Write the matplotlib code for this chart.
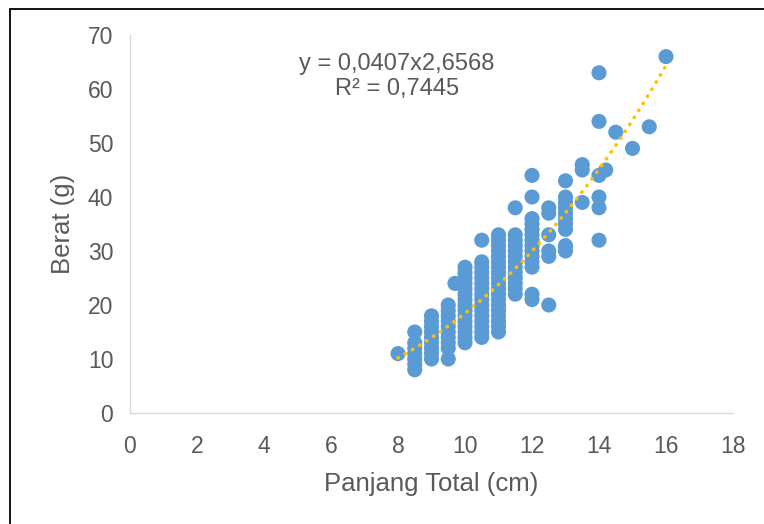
import numpy as np
import matplotlib.pyplot as plt
from matplotlib.patches import Rectangle

# panjang total (cm) per kelas, berat (g) yang terbaca di tiap kelas
panjang_kelas = [8, 8.5, 9, 9.5, 9.7, 10, 10.5, 11, 11.5, 12, 12.5, 13,
                 13.5, 14, 14.2, 14.5, 15, 15.5, 16]
berat_per_kelas = [
    [11],
    [8, 9, 10, 11, 12, 13, 15],
    [10, 11, 12, 13, 14, 15, 16, 17, 18],
    [10, 12, 13, 14, 15, 16, 17, 18, 19, 20],
    [24],
    [13, 14, 15, 16, 17, 18, 19, 20, 21, 22, 23, 24, 25, 26, 27],
    [14, 15, 16, 17, 18, 19, 20, 21, 22, 23, 24, 25, 26, 27, 28, 32],
    [15, 16, 17, 18, 19, 20, 21, 22, 23, 24, 25, 26, 27, 28, 29, 30, 31, 32, 33],
    [22, 23, 24, 25, 26, 27, 28, 29, 30, 31, 32, 33, 38],
    [21, 22, 27, 28, 29, 30, 31, 32, 33, 34, 35, 36, 40, 44],
    [20, 29, 30, 33, 37, 38],
    [30, 31, 34, 35, 36, 37, 38, 39, 40, 43],
    [39, 45, 46],
    [32, 38, 40, 44, 54, 63],
    [45],
    [52],
    [49],
    [53],
    [66],
]

# garis tren pangkat (Excel)
koef_a = 0.0407
koef_b = 2.6568
label_persamaan = "y = 0,0407x2,6568\nR² = 0,7445"

x = np.concatenate([[p] * len(b) for p, b in zip(panjang_kelas, berat_per_kelas)])
y = np.concatenate(berat_per_kelas)

plt.rcParams['font.family'] = ['Liberation Sans', 'DejaVu Sans']
abu = '#595959'

fig = plt.figure(figsize=(7.64, 5.24), dpi=100)
ax = fig.add_axes([130 / 764, 111 / 524, 603 / 764, 378 / 524])

ax.scatter(x, y, s=118, color='#5B9BD5', edgecolors='none', zorder=2)

xt = np.linspace(x.min(), x.max(), 200)
ax.plot(xt, koef_a * xt ** koef_b, color='#FFC000', lw=2.6,
        linestyle=(0, (0.1, 2.2)), dash_capstyle='round', zorder=3)

ax.text(7.97, 62.3, label_persamaan, ha='center', va='center',
        fontsize=17, color=abu, linespacing=1.2)

ax.set_xlim(0, 18)
ax.set_ylim(0, 70)
ax.set_xticks(range(0, 19, 2))
ax.set_yticks(range(0, 71, 10))
ax.tick_params(axis='x', length=0, labelsize=16.5, colors=abu, pad=16)
ax.tick_params(axis='y', length=0, labelsize=16.5, colors=abu, pad=12)
for s in ['top', 'right']:
    ax.spines[s].set_visible(False)
for s in ['left', 'bottom']:
    ax.spines[s].set_color('#D9D9D9')
    ax.spines[s].set_linewidth(1)

ax.set_xlabel('Panjang Total (cm)', fontsize=18.5, color=abu, labelpad=10)
ax.set_ylabel('Berat (g)', fontsize=18.5, color=abu, labelpad=9)

fig.patches.append(Rectangle((10 / 764, -0.1), 1.2, 1 - 9 / 524 + 0.1,
                             transform=fig.transFigure, fill=False,
                             edgecolor='black', lw=1.3))

fig.savefig('out.png', dpi=100)
